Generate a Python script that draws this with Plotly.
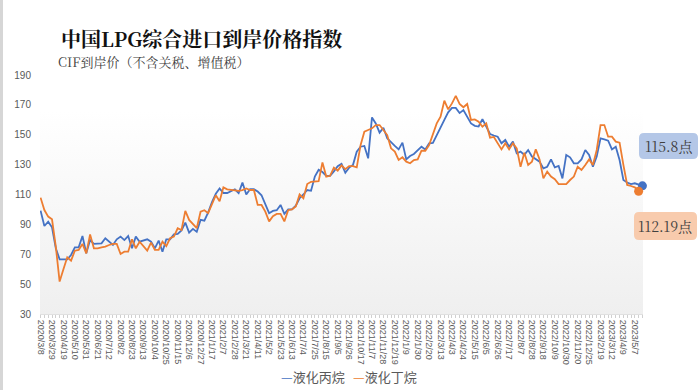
import base64
import pandas as pd
import plotly.graph_objects as go

# ---------------- data ----------------
weekly = pd.date_range("2020-03-08", "2022-11-20", freq="7D")
tail_dates = ["2022-12-04", "2022-12-11", "2022-12-25", "2023-01-08", "2023-02-12",
              "2023-02-19", "2023-02-26", "2023-03-05", "2023-03-12", "2023-03-19",
              "2023-03-26", "2023-04-09", "2023-04-16", "2023-04-23", "2023-05-07",
              "2023-05-14", "2023-05-21"]
all_dates = list(weekly) + [pd.Timestamp(d) for d in tail_dates]
categories = [f"{d.year}/{d.month}/{d.day}" for d in all_dates]

propane = [
    99.2, 88.9, 91.8, 88.0, 74.0, 66.6, 66.6, 66.6, 69.5, 74.6,
    74.6, 82.2, 70.6, 79.5, 76.9, 77.3, 77.3, 80.7, 78.4, 76.2,
    80.0, 81.8, 79.5, 82.2, 74.0, 81.8, 78.4, 79.1, 80.0, 78.4,
    74.0, 79.1, 71.7, 80.0, 80.0, 83.3, 83.6, 86.0, 91.2, 84.5,
    87.0, 85.0, 93.0, 92.5, 98.0, 105.0, 110.5, 114.0, 111.0, 111.0,
    112.5, 113.5, 111.0, 118.0, 110.0, 113.5, 113.5, 112.0, 109.5, 103.0,
    97.5, 99.0, 99.5, 103.0, 97.0, 100.0, 100.0, 102.5, 107.5, 110.0,
    113.0, 112.5, 122.0, 126.5, 125.0, 122.5, 122.5, 125.5, 129.0, 130.5,
    124.6, 128.0, 129.7, 138.7, 142.0, 142.5, 134.2, 161.6, 157.6, 151.4,
    154.7, 147.6, 144.7, 142.5, 140.2, 144.7, 133.5, 135.8, 137.1, 139.3,
    142.0, 140.2, 144.3, 144.5, 150.0, 155.0, 160.0, 165.0, 168.0, 168.0,
    164.5, 166.5, 162.5, 157.6, 156.0, 155.5, 160.5, 155.4, 150.5, 149.5,
    148.7, 144.3, 146.5, 142.0, 145.4, 137.6, 138.7, 136.5, 139.8, 135.4,
    133.5, 132.0, 127.5, 128.6, 133.5, 128.2, 129.1, 120.8, 136.5, 134.9,
    130.9, 130.9, 133.5, 139.8, 136.5, 128.6, 135.4, 147.6, 146.9, 146.0,
    140.2, 142.0, 133.1, 119.7, 118.0, 117.0, 117.5, 116.4, 115.8,
]

butane = [
    107.9, 99.6, 95.2, 93.4, 75.1, 51.7, 59.9, 68.0, 65.7, 72.4,
    72.9, 76.9, 70.6, 83.3, 74.0, 74.0, 74.6, 75.1, 76.2, 76.9,
    76.9, 70.2, 71.7, 71.7, 80.0, 74.0, 78.4, 75.5, 72.4, 77.8,
    72.9, 72.9, 78.4, 75.5, 80.7, 81.8, 87.4, 86.2, 99.0, 93.0,
    90.5, 87.5, 98.5, 99.5, 97.5, 103.0, 109.5, 105.5, 114.8, 113.5,
    113.0, 113.0, 112.5, 113.0, 114.0, 113.0, 113.0, 103.0, 103.0, 98.5,
    92.0, 95.5, 97.0, 97.0, 92.0, 99.5, 100.0, 102.0, 110.0, 107.5,
    117.0, 118.5, 119.0, 119.0, 131.5, 122.0, 122.5, 128.0, 126.0, 129.5,
    127.0, 129.0, 129.0, 128.2, 143.0, 152.0, 153.2, 154.3, 156.5, 156.5,
    153.2, 149.8, 140.9, 138.7, 133.1, 134.9, 132.0, 130.9, 133.1, 133.5,
    139.3, 139.3, 143.1, 149.8, 157.6, 162.1, 172.8, 167.0, 171.0, 176.0,
    170.6, 168.4, 170.6, 159.9, 160.3, 158.8, 155.4, 157.6, 148.0, 148.5,
    144.3, 140.2, 144.3, 140.2, 144.3, 140.9, 128.6, 138.0, 129.8, 132.0,
    140.2, 133.5, 120.8, 125.3, 122.0, 120.2, 117.0, 117.0, 117.0, 119.7,
    122.0, 128.6, 126.4, 129.8, 133.5, 129.8, 139.8, 156.5, 156.5, 148.7,
    148.7, 145.4, 144.7, 129.8, 116.4, 115.7, 114.8, 112.19, None,
]

y_ticks = [30, 50, 70, 90, 110, 130, 150, 170, 190]
series_names = ["液化丙烷", "液化丁烷"]
label_step = 3

# ---------------- styling ----------------
BLUE = "#4472C4"
ORANGE = "#ED7D31"
W, H = 700, 390
ML, MR, MT, MB = 40, 57, 75, 76
PW, PH = W - ML - MR, H - MT - MB
CJK = "Noto Serif CJK SC, Noto Sans CJK SC, serif"
LAT = "Liberation Sans, Arial, sans-serif"


def px(x):
    return (x - ML) / PW


def py(y):
    return (H - MB - y) / PH


x_idx = list(range(len(categories)))

fig = go.Figure()
fig.add_trace(go.Scatter(x=x_idx, y=propane, mode="lines", name=series_names[0],
                         line=dict(color=BLUE, width=1.8), customdata=categories,
                         hovertemplate="%{customdata}<br>%{y}<extra>液化丙烷</extra>"))
fig.add_trace(go.Scatter(x=x_idx, y=butane, mode="lines", name=series_names[1],
                         line=dict(color=ORANGE, width=1.8), customdata=categories,
                         hovertemplate="%{customdata}<br>%{y}<extra>液化丁烷</extra>"))

# end markers
last_p = max(i for i, v in enumerate(propane) if v is not None)
last_b = max(i for i, v in enumerate(butane) if v is not None)
fig.add_trace(go.Scatter(x=[last_p], y=[propane[last_p]], mode="markers",
                         marker=dict(color=BLUE, size=9), cliponaxis=False,
                         showlegend=False, hoverinfo="skip"))
fig.add_trace(go.Scatter(x=[last_b], y=[butane[last_b]], mode="markers",
                         marker=dict(color=ORANGE, size=9), cliponaxis=False,
                         showlegend=False, hoverinfo="skip"))

# gradient plot background
svg = ('<svg xmlns="http://www.w3.org/2000/svg" width="10" height="100" viewBox="0 0 10 100" '
       'preserveAspectRatio="none"><defs><linearGradient id="g" x1="0" y1="0" x2="0" y2="1">'
       '<stop offset="0" stop-color="#ffffff"/><stop offset="0.15" stop-color="#ffffff"/>'
       '<stop offset="1" stop-color="#efefef"/></linearGradient></defs>'
       '<rect width="10" height="100" fill="url(#g)"/></svg>')
src = "data:image/svg+xml;base64," + base64.b64encode(svg.encode()).decode()
fig.add_layout_image(dict(source=src, xref="paper", yref="paper", x=0, y=1, sizex=1, sizey=1,
                          xanchor="left", yanchor="top", sizing="stretch", layer="below"))


def rounded_rect(x0, y0, x1, y1, r):
    X0, X1 = px(x0), px(x1)
    Y0, Y1 = py(y0), py(y1)  # Y0 top, Y1 bottom
    rx, ry = r / PW, r / PH
    return (f"M{X0+rx},{Y0} L{X1-rx},{Y0} Q{X1},{Y0} {X1},{Y0-ry} L{X1},{Y1+ry} "
            f"Q{X1},{Y1} {X1-rx},{Y1} L{X0+rx},{Y1} Q{X0},{Y1} {X0},{Y1+ry} "
            f"L{X0},{Y0-ry} Q{X0},{Y0} {X0+rx},{Y0} Z")


shapes = [
    dict(type="path", xref="paper", yref="paper", path=rounded_rect(639, 133, 698, 159, 5),
         fillcolor="#B4C7E7", line=dict(width=0), layer="above"),
    dict(type="path", xref="paper", yref="paper", path=rounded_rect(634, 212, 697, 240, 5),
         fillcolor="#F8CBAD", line=dict(width=0), layer="above"),
    dict(type="line", xref="paper", yref="paper", x0=px(1.5), x1=px(1.5), y0=py(0), y1=py(H),
         line=dict(color="#D6D6D6", width=3)),
]

annotations = [
    dict(text="<b>中国LPG综合进口到岸价格指数</b>", xref="paper", yref="paper",
         x=px(59), y=py(38.5), xanchor="left", yanchor="middle", showarrow=False,
         font=dict(family=CJK, size=20, color="#111111")),
    dict(text="CIF到岸价（不含关税、增值税）", xref="paper", yref="paper",
         x=px(56), y=py(61.5), xanchor="left", yanchor="middle", showarrow=False,
         font=dict(family=CJK, size=13, color="#404040")),
    dict(text=f"{propane[last_p]}点", xref="paper", yref="paper",
         x=px(668.5), y=py(146), xanchor="center", yanchor="middle", showarrow=False,
         font=dict(family=CJK, size=14, color="#404040")),
    dict(text=f"{butane[last_b]}点", xref="paper", yref="paper",
         x=px(665.5), y=py(226), xanchor="center", yanchor="middle", showarrow=False,
         font=dict(family=CJK, size=14, color="#404040")),
    dict(text=f'<span style="color:{BLUE}">—</span>{series_names[0]}', xref="paper", yref="paper",
         x=px(279), y=py(376), xanchor="left", yanchor="middle", showarrow=False,
         font=dict(family="Noto Sans CJK SC", size=13, color="#595959")),
    dict(text=f'<span style="color:{ORANGE}">—</span>{series_names[1]}', xref="paper", yref="paper",
         x=px(351), y=py(376), xanchor="left", yanchor="middle", showarrow=False,
         font=dict(family="Noto Sans CJK SC", size=13, color="#595959")),
]

tickvals = x_idx[::label_step]
ticktext = categories[::label_step]

fig.update_layout(
    width=W, height=H,
    margin=dict(l=ML, r=MR, t=MT, b=MB, pad=0),
    paper_bgcolor="white", plot_bgcolor="rgba(0,0,0,0)",
    showlegend=False,
    shapes=shapes, annotations=annotations,
    xaxis=dict(range=[-0.15, len(categories) - 0.85], tickmode="array", tickvals=tickvals,
               ticktext=ticktext, tickangle=90, showgrid=False, zeroline=False,
               showline=True, linecolor="#E0E0E0", linewidth=1,
               ticks="outside", ticklen=3, tickcolor="#D0D0D0",
               minor=dict(tickmode="linear", tick0=0, dtick=1, ticks="outside", ticklen=3,
                          tickcolor="#D0D0D0", showgrid=False),
               tickfont=dict(family=LAT, size=9, color="#595959")),
    yaxis=dict(range=[30, 190], tickmode="array", tickvals=y_ticks, showgrid=False,
               zeroline=False, showline=False, ticks="", ticklabelstandoff=8,
               tickfont=dict(family=LAT, size=10, color="#595959")),
)

fig.write_html("out.html", config={"displayModeBar": False},
               post_script="document.body.style.margin='0';document.body.style.overflow='hidden';")
